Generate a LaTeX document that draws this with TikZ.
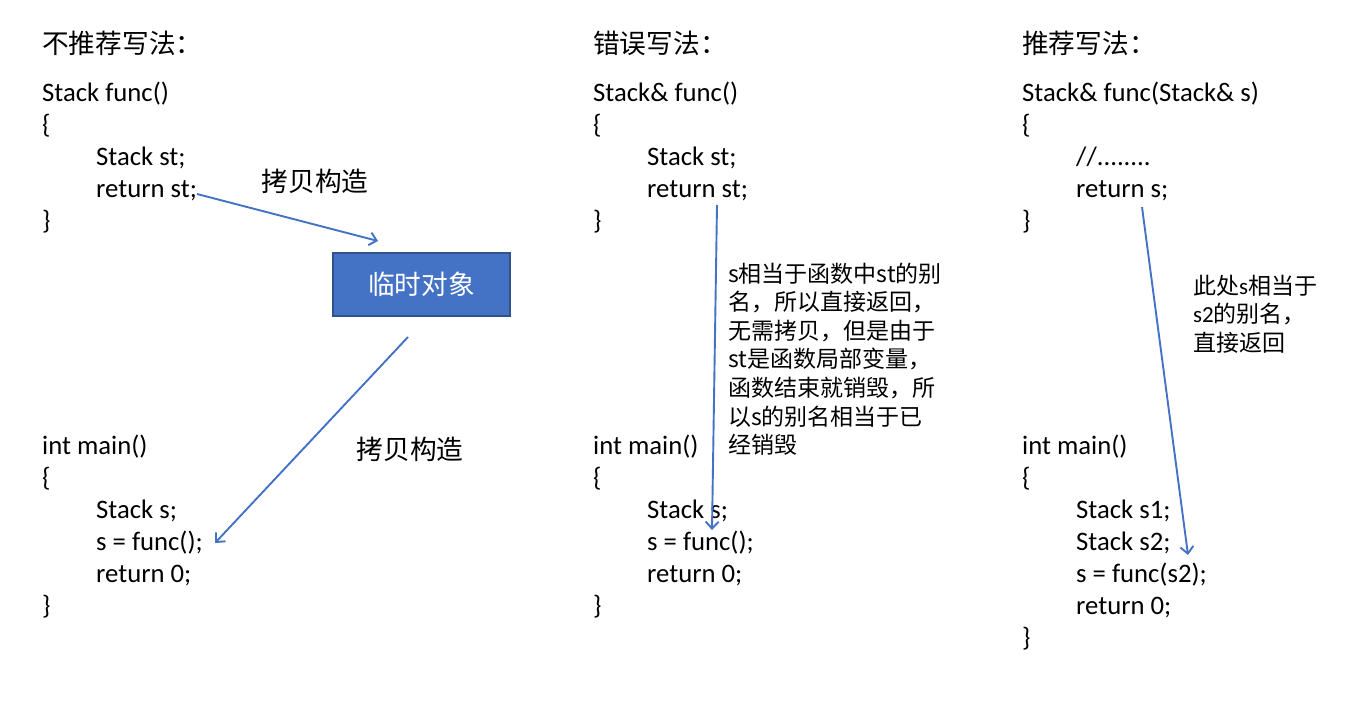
\documentclass[tikz,border=0pt]{standalone}
\usepackage{fontspec}
\setmainfont{Carlito}
\newfontfamily\cjk{Noto Sans CJK SC}
\newfontfamily\lat{Carlito}
\usetikzlibrary{arrows.meta}
\definecolor{acc}{HTML}{4472C4}
\definecolor{accd}{HTML}{2F528F}
\begin{document}
\begin{tikzpicture}[x=1pt,y=-1pt,
  code/.style={anchor=base west,inner sep=0pt,font=\fontsize{26.7}{32}\selectfont},
  ttl/.style={anchor=base west,inner sep=0pt,font=\cjk\fontsize{26.7}{32}\selectfont},
  lbl/.style={anchor=center,inner sep=0pt,font=\cjk\fontsize{26.7}{32}\selectfont},
  note/.style={anchor=base west,inner sep=0pt,font=\cjk\fontsize{23}{28.6}\selectfont},
  box/.style={fill=acc,draw=accd,line width=1.8pt,text=white,minimum width=177pt,minimum height=63pt,inner sep=0pt,font=\cjk\fontsize{26.7}{32}\selectfont},
  arr/.style={draw=acc,line width=1.9pt,-{Straight Barb[length=7pt,width=13pt]}}]
\useasboundingbox (0,0) rectangle (1349,720);
\fill[white] (0,0) rectangle (1349,720);

% column 1
\node[ttl] (t1) at (42,53) {不推荐写法：};
\node[code] (a1) at (42,101) {Stack func()};
\node[code] (a2) at (42,133) {\{};
\node[code] (a3) at (96,165) {Stack st;};
\node[code] (a4) at (96,197) {return st;};
\node[code] (a5) at (42,229) {\}};
\node[code] (b1) at (42,454) {int main()};
\node[code] (b2) at (42,486) {\{};
\node[code] (b3) at (96,518) {Stack s;};
\node[code] (b4) at (96,550) {s = func();};
\node[code] (b5) at (96,582) {return 0;};
\node[code] (b6) at (42,614) {\}};
\node[box] (tmp) at (421.5,284.5) {临时对象};
\node[lbl] (l1) at (315,181) {拷贝构造};
\node[lbl] (l2) at (410,449) {拷贝构造};
\coordinate (p1s) at (197,194);
\coordinate (p1e) at (378,241);
\coordinate (p2s) at (408,337);
\coordinate (p2e) at (215,543);
\draw[arr] (p1s) -- (p1e);
\draw[arr] (p2s) -- (p2e);

% column 2
\node[ttl] (t2) at (593,53) {错误写法：};
\node[code] (c1) at (593,101) {Stack\& func()};
\node[code] (c2) at (593,133) {\{};
\node[code] (c3) at (647,165) {Stack st;};
\node[code] (c4) at (647,197) {return st;};
\node[code] (c5) at (593,229) {\}};
\node[code] (d1) at (593,454) {int main()};
\node[code] (d2) at (593,486) {\{};
\node[code] (d3) at (647,518) {Stack s;};
\node[code] (d4) at (647,550) {s = func();};
\node[code] (d5) at (647,582) {return 0;};
\node[code] (d6) at (593,614) {\}};
\node[note] (n1) at (728,282) {s相当于函数中st的别};
\node[note] (n2) at (728,310.6) {名，所以直接返回，};
\node[note] (n3) at (728,339.2) {无需拷贝，但是由于};
\node[note] (n4) at (728,367.8) {st是函数局部变量，};
\node[note] (n5) at (728,396.4) {函数结束就销毁，所};
\node[note] (n6) at (728,425) {以s的别名相当于已};
\node[note] (n7) at (728,453.6) {经销毁};
\coordinate (p3s) at (717,205);
\coordinate (p3e) at (712,530);
\draw[arr] (p3s) -- (p3e);

% column 3
\node[ttl] (t3) at (1022,53) {推荐写法：};
\node[code] (e1) at (1022,101) {Stack\& func(Stack\& s)};
\node[code] (e2) at (1022,133) {\{};
\node[code] (e3) at (1076,165) {//........};
\node[code] (e4) at (1076,197) {return s;};
\node[code] (e5) at (1022,229) {\}};
\node[code] (f1) at (1022,454) {int main()};
\node[code] (f2) at (1022,486) {\{};
\node[code] (f3) at (1076,518) {Stack s1;};
\node[code] (f4) at (1076,550) {Stack s2;};
\node[code] (f5) at (1076,582) {s = func(s2);};
\node[code] (f6) at (1076,614) {return 0;};
\node[code] (f7) at (1022,646) {\}};
\node[note] (m1) at (1193,294) {此处{\lat s}相当于};
\node[note] (m2) at (1193,322.5) {{\lat s2}的别名，};
\node[note] (m3) at (1193,351) {直接返回};
\coordinate (p4s) at (1142,207);
\coordinate (p4e) at (1188,555);
\draw[arr] (p4s) -- (p4e);
\end{tikzpicture}
\end{document}
